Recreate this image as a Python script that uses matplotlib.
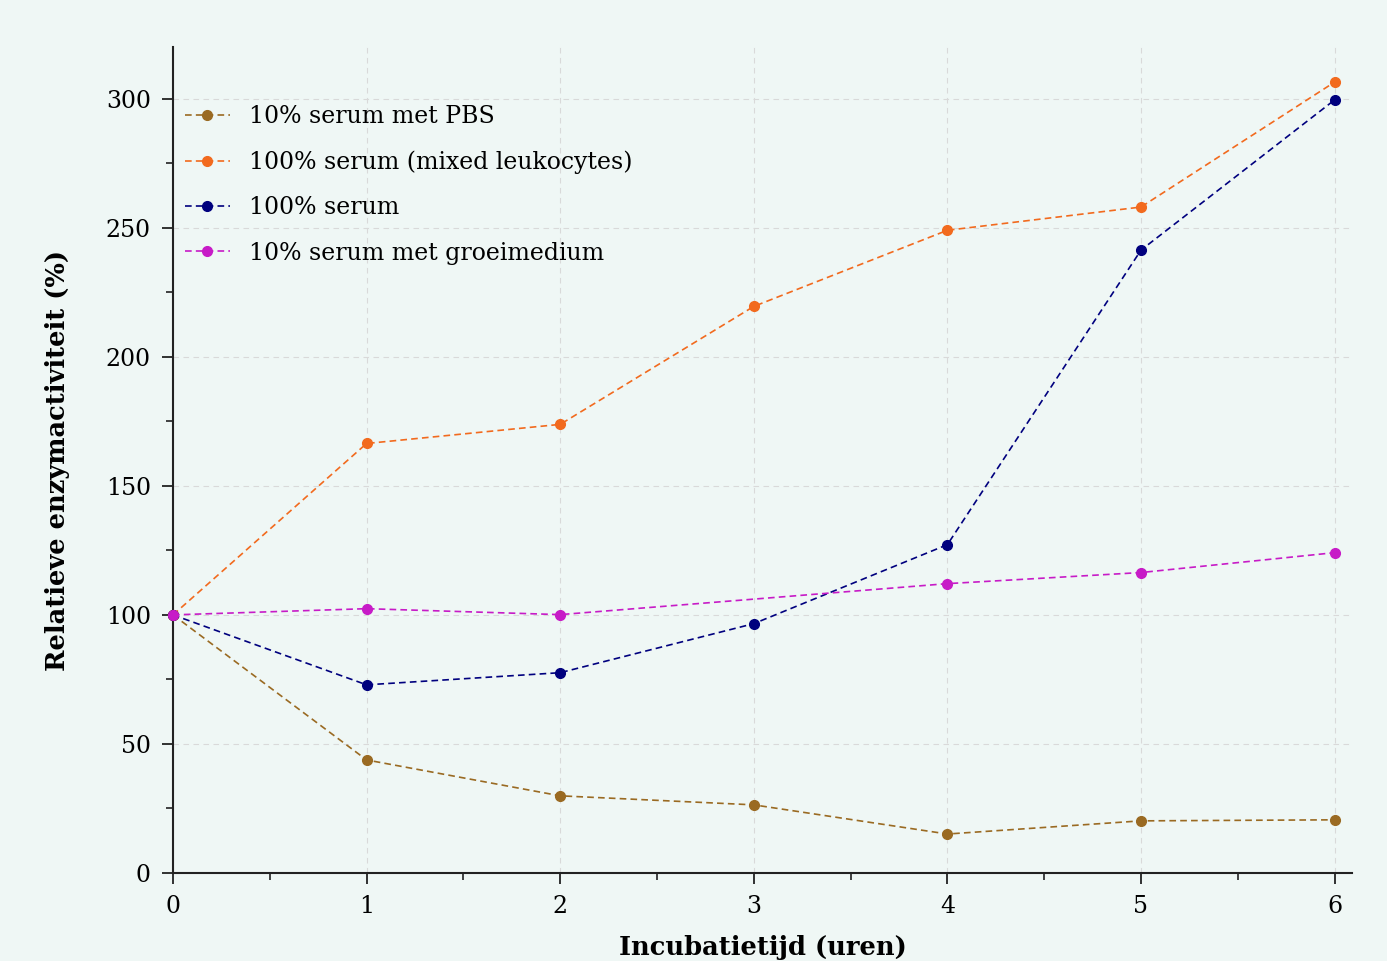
import matplotlib
matplotlib.use("Agg")
import matplotlib.pyplot as plt
from matplotlib.ticker import MultipleLocator

hours = [0, 1, 2, 3, 4, 5, 6]
pbs = [100, 43.8, 29.9, 26.4, 15.1, 20.2, 20.6]
mixed = [100, 166.4, 173.8, 219.5, 249.0, 258.0, 306.4]
serum = [100, 72.9, 77.6, 96.6, 127.2, 241.3, 299.5]
groei_hours = [0, 1, 2, 4, 5, 6]
groei = [100, 102.4, 100.1, 112.1, 116.4, 124.1]

labels = ["10% serum met PBS", "100% serum (mixed leukocytes)",
          "100% serum", "10% serum met groeimedium"]
colors = ["#9a6a22", "#f26a1e", "#00007e", "#c71bc7"]

plt.rcParams['font.family'] = ['DejaVu Serif']
bg = "#eff7f5"
fig = plt.figure(figsize=(13.87, 9.61), dpi=100, facecolor=bg)
ax = fig.add_axes([173/1387, 1-873/961, (1352-173)/1387, (873-47)/961])
ax.set_facecolor(bg)

series = [(hours, pbs), (hours, mixed), (hours, serum), (groei_hours, groei)]
for (x, y), lab, c in zip(series, labels, colors):
    ax.plot(x, y, linestyle=(0, (4, 2.5)), lw=1.2, color=c, marker='o',
            markersize=7, label=lab, zorder=3, clip_on=False)

ax.set_xlim(0, 6.09)
ax.set_ylim(0, 320)
ax.xaxis.set_major_locator(MultipleLocator(1))
ax.xaxis.set_minor_locator(MultipleLocator(0.5))
ax.yaxis.set_major_locator(MultipleLocator(50))
ax.yaxis.set_minor_locator(MultipleLocator(25))
ax.grid(True, which='major', color='#d9d9d9', linestyle=(0, (5, 4)), lw=0.8)
for s in ['top', 'right']:
    ax.spines[s].set_visible(False)
for s in ['left', 'bottom']:
    ax.spines[s].set_color('#222222')
    ax.spines[s].set_linewidth(1.5)
ax.tick_params(which='major', length=8, width=1.3, color='#222222',
               labelsize=17, pad=8)
ax.tick_params(which='minor', length=5, width=1.2, color='#222222')
ax.set_xlabel("Incubatietijd (uren)", fontsize=18.5, fontweight='bold', labelpad=12)
ax.set_ylabel("Relatieve enzymactiviteit (%)", fontsize=18.5, fontweight='bold', labelpad=26)

leg = ax.legend(loc='upper left', frameon=False, fontsize=17,
                bbox_to_anchor=(-0.004, 0.95), handlelength=1.9,
                labelspacing=0.95, handletextpad=0.8, borderaxespad=0.3)

fig.savefig("out.png", dpi=100, facecolor=bg)
